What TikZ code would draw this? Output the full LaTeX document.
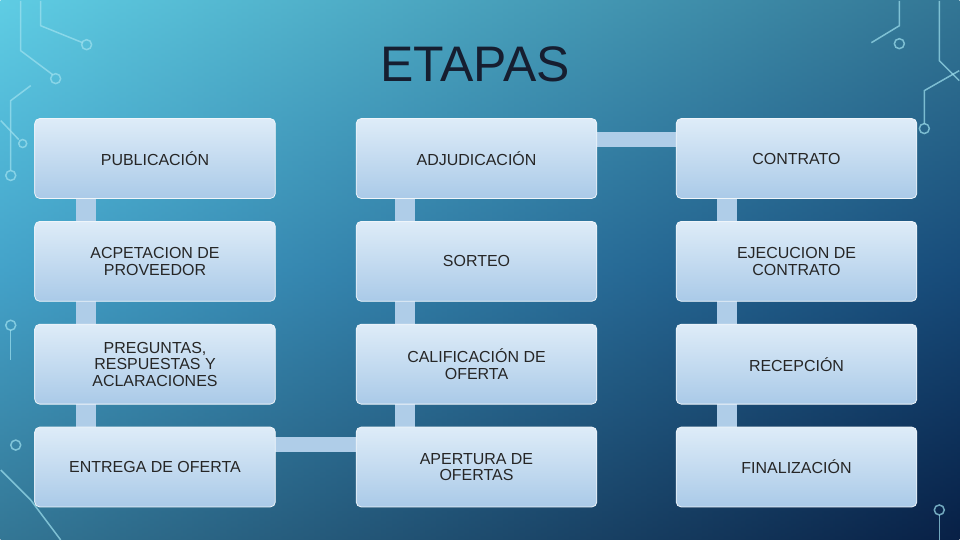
\documentclass[tikz,border=0pt]{standalone}
\usepackage{fontspec}
\setmainfont{Liberation Sans}
\definecolor{bgtop}{RGB}{95,205,228}
\definecolor{bgmid}{RGB}{40,120,175}
\definecolor{bgbot}{RGB}{8,32,70}
\definecolor{boxtop}{RGB}{222,236,248}
\definecolor{boxbot}{RGB}{170,202,232}
\definecolor{linkc}{RGB}{175,205,232}
\definecolor{titlec}{RGB}{22,30,48}
\begin{document}
\begin{tikzpicture}[x=1pt,y=-1pt,
  stage/.style={draw=white!80!linkc,line width=0.8pt,rounded corners=5pt,top color=boxtop,bottom color=boxbot,minimum width=241pt,minimum height=80pt,align=center,font=\fontsize{16}{16.5}\selectfont,text=black!85},
  link/.style={fill=linkc},
  circ/.style={draw=bgtop!60!white,line width=1.5pt,opacity=0.7}]
\shade[top color=bgtop, bottom color=bgbot, middle color=bgmid] (0,0) rectangle (960,540);
\shade[left color=bgtop,right color=bgbot,opacity=0.5] (0,0) rectangle (960,540);
% circuit decorations
\draw[circ] (40,0) -- (40,25) -- (82,42);
\draw[circ] (86,44) circle[radius=5];
\draw[circ] (20,0) -- (20,50) -- (52,74); \draw[circ] (55,78) circle[radius=5];
\draw[circ] (0,120) -- (18,139); \draw[circ] (22,143) circle[radius=4];
\draw[circ] (10,175) circle[radius=5]; \draw[circ] (10,170) -- (10,100) -- (30,85);
\draw[circ] (10,325) circle[radius=5]; \draw[circ] (10,330) -- (10,360);
\draw[circ] (15,445) circle[radius=5]; \draw[circ] (0,470) -- (30,500) -- (60,540);
\draw[circ] (900,0) -- (900,25) -- (872,42); \draw[circ] (900,43) circle[radius=5];
\draw[circ] (940,0) -- (940,60) -- (960,80);
\draw[circ] (925,128) circle[radius=5]; \draw[circ] (925,123) -- (925,90) -- (960,70);
\draw[circ] (940,510) circle[radius=5]; \draw[circ] (940,515) -- (940,540);
\node[font=\fontsize{50}{54}\selectfont,text=titlec] (title) at (475,64) {ETAPAS};
% links
\fill[link] (75,198) rectangle (95,427);
\fill[link] (395,198) rectangle (415,427);
\fill[link] (717,198) rectangle (737,427);
\fill[link] (275,437) rectangle (356,452);
\fill[link] (597,131) rectangle (677,146);
% boxes
\node[stage] (a1) at (154.5,158) {PUBLICACIÓN};
\node[stage] (a2) at (154.5,261) {ACPETACION DE\\PROVEEDOR};
\node[stage] (a3) at (154.5,364) {PREGUNTAS,\\RESPUESTAS Y\\ACLARACIONES};
\node[stage] (a4) at (154.5,467) {ENTREGA DE OFERTA};
\node[stage] (b1) at (476.5,158) {ADJUDICACIÓN};
\node[stage] (b2) at (476.5,261) {SORTEO};
\node[stage] (b3) at (476.5,364) {CALIFICACIÓN DE\\OFERTA};
\node[stage] (b4) at (476.5,467) {APERTURA DE\\OFERTAS};
\node[stage] (c1) at (797,158) {CONTRATO};
\node[stage] (c2) at (797,261) {EJECUCION DE\\CONTRATO};
\node[stage] (c3) at (797,364) {RECEPCIÓN};
\node[stage] (c4) at (797,467) {FINALIZACIÓN};
\end{tikzpicture}
\end{document}
